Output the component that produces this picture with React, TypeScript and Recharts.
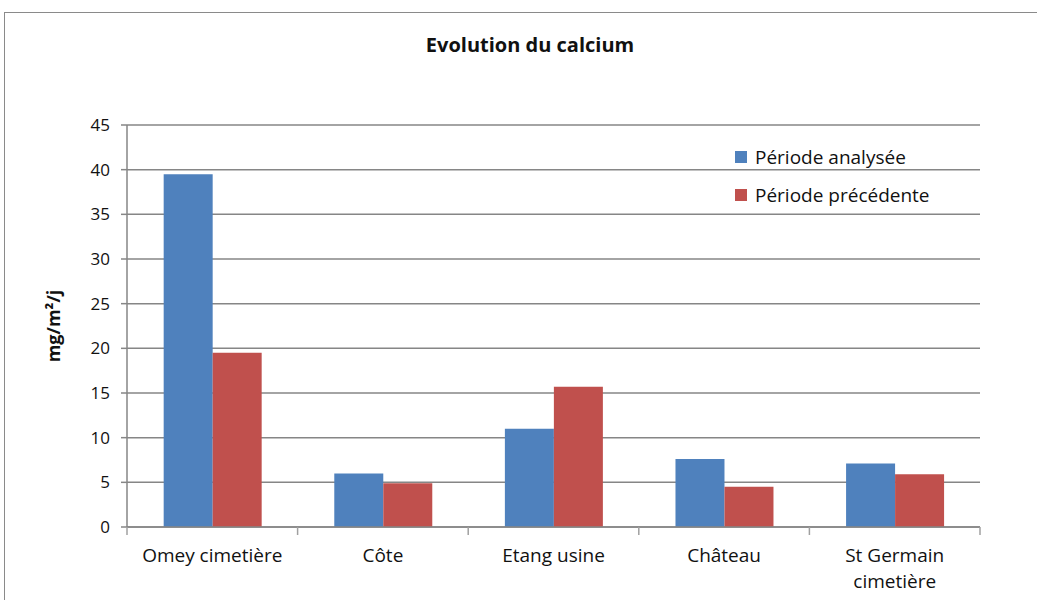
import React from "react";
import { BarChart, Bar, XAxis, YAxis, CartesianGrid, Legend } from "recharts";

const categories = ["Omey cimetière", "Côte", "Etang usine", "Château", "St Germain cimetière"];
const periodeAnalysee = [39.5, 6.0, 11.0, 7.6, 7.1];
const periodePrecedente = [19.5, 4.9, 15.7, 4.5, 5.9];
const yTicks = [0, 5, 10, 15, 20, 25, 30, 35, 40, 45];
const seriesNames = ["Période analysée", "Période précédente"];
const colors = ["#4F81BD", "#C0504D"];

const data = categories.map((c, i) => ({
  name: c,
  a: periodeAnalysee[i],
  p: periodePrecedente[i],
}));

const W = 1037;
const H = 600;
const xAxisHeight = 30;
const margin = { top: 125, right: 57, bottom: 73 - xAxisHeight, left: 62 };
const yAxisWidth = 65;
const plotLeft = margin.left + yAxisWidth;
const plotWidth = W - margin.right - plotLeft;
const band = plotWidth / categories.length;
const FONT = "'Open Sans', sans-serif";

const XTick = (props: any) => {
  const { x, y, payload } = props;
  const words = String(payload.value);
  const lines = words === "St Germain cimetière" ? ["St Germain", "cimetière"] : [words];
  const bx = x + band / 2;
  return (
    <g>
      <line x1={bx} y1={y} x2={bx} y2={y + 8} stroke="#a0a0a0" strokeWidth={1.5} />
      {payload.index === 0 && (
        <line x1={x - band / 2} y1={y} x2={x - band / 2} y2={y + 8} stroke="#a0a0a0" strokeWidth={1.5} />
      )}
      {lines.map((l, i) => (
        <text
          key={i}
          x={x}
          y={y + 35 + i * 26}
          textAnchor="middle"
          fontFamily={FONT}
          fontSize={19}
          fill="#111"
        >
          {l}
        </text>
      ))}
    </g>
  );
};

const LegendContent = (props: any) => {
  const { payload } = props;
  return (
    <div style={{ fontFamily: FONT, fontSize: 19, color: "#111" }}>
      {payload.map((e: any, i: number) => (
        <div key={i} style={{ display: "flex", alignItems: "center", height: 38 }}>
          <span
            style={{
              display: "inline-block",
              width: 12,
              height: 12,
              background: e.color,
              marginRight: 8,
            }}
          />
          <span>{e.value}</span>
        </div>
      ))}
    </div>
  );
};

export default function App() {
  return (
    <div style={{ position: "absolute", left: 0, top: 0, width: W, height: H, background: "#fff", overflow: "hidden" }}>
      <div
        style={{
          position: "absolute",
          left: 4,
          top: 12,
          width: W + 20,
          height: H + 20,
          border: "1.5px solid #8a8a8a",
          boxSizing: "border-box",
        }}
      />
      <div
        style={{
          position: "absolute",
          left: 0,
          top: 31,
          width: 1060,
          textAlign: "center",
          fontFamily: FONT,
          fontWeight: 700,
          fontSize: 20,
          color: "#111",
        }}
      >
        Evolution du calcium
      </div>
      <div style={{ position: "absolute", left: 0, top: 0 }}>
        <BarChart width={W} height={H} data={data} margin={margin} barCategoryGap="21.5%" barGap={0}>
          <CartesianGrid vertical={false} stroke="#868686" strokeWidth={1.5} />
          <XAxis
            dataKey="name"
            height={xAxisHeight}
            stroke="#868686"
            strokeWidth={1.5}
            tickLine={false}
            tickSize={0}
            tickMargin={0}
            interval={0}
            tick={<XTick />}
          />
          <YAxis
            width={yAxisWidth}
            domain={[0, 45]}
            ticks={yTicks}
            interval={0}
            stroke="#868686"
            strokeWidth={1.5}
            tickSize={6}
            tickMargin={11}
            tick={{ fontFamily: FONT, fontSize: 17, fill: "#111" }}
            label={{
              value: "mg/m²/j",
              angle: -90,
              position: "insideLeft",
              offset: -8,
              style: { fontFamily: FONT, fontWeight: 700, fontSize: 18, fill: "#111", textAnchor: "middle" },
            }}
          />
          <Legend
            layout="vertical"
            verticalAlign="middle"
            align="center"
            content={<LegendContent />}
            wrapperStyle={{ position: "absolute", left: 735, top: 138, width: 260 }}
          />
          <Bar dataKey="a" name={seriesNames[0]} fill={colors[0]} isAnimationActive={false} />
          <Bar dataKey="p" name={seriesNames[1]} fill={colors[1]} isAnimationActive={false} />
        </BarChart>
      </div>
    </div>
  );
}
